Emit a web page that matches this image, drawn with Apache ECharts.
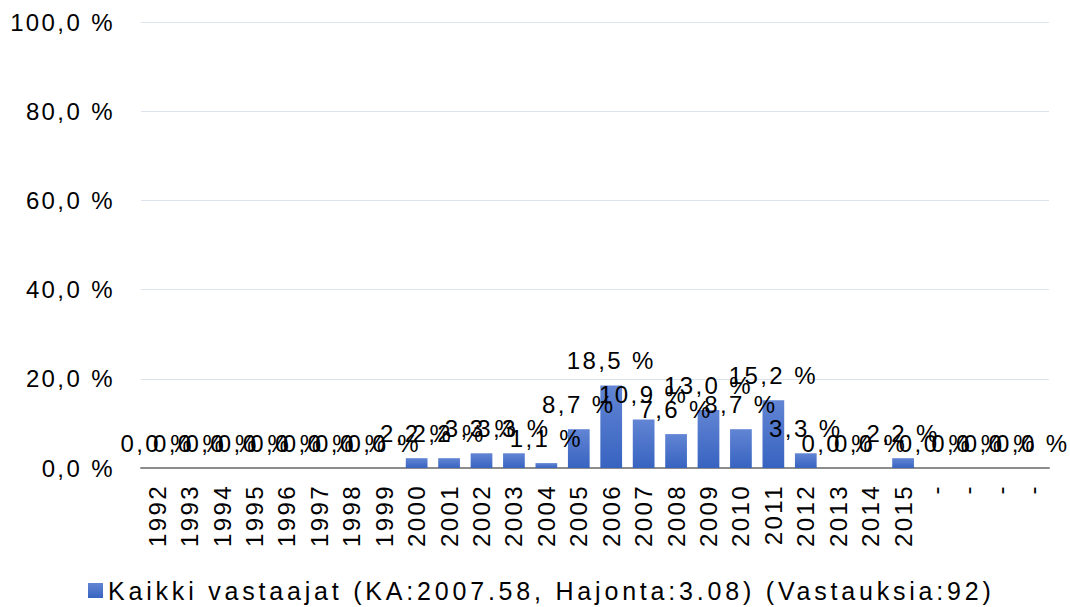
<!DOCTYPE html>
<html>
<head>
<meta charset="utf-8">
<script src="https://cdn.jsdelivr.net/npm/echarts@6/dist/echarts.min.js"></script>
<style>
  html, body { margin: 0; padding: 0; background: #fff; }
  #main { width: 1070px; height: 607px; }
  #main text { letter-spacing: 2.4px; }
  #main text[style*="25px"] { letter-spacing: 3.8px; }
</style>
</head>
<body>
<div id="main"></div>
<script>
  // vuodet + tyhjät kategoriat lopussa
  var years = ['1992', '1993', '1994', '1995', '1996', '1997', '1998', '1999',
    '2000', '2001', '2002', '2003', '2004', '2005', '2006', '2007', '2008',
    '2009', '2010', '2011', '2012', '2013', '2014', '2015', '-', '-', '-', '-']
  var shares = [0, 0, 0, 0, 0, 0, 0, 0,
    2.2, 2.2, 3.3, 3.3, 1.1, 8.7, 18.5, 10.9, 7.6,
    13.0, 8.7, 15.2, 3.3, 0, 0, 2.2, 0, 0, 0, 0]
  var yTicks = [0, 20, 40, 60, 80, 100]
  var seriesName = 'Kaikki vastaajat (KA:2007.58, Hajonta:3.08) (Vastauksia:92)'

  var font = 'Liberation Sans, Arial, sans-serif'
  function pct(v) {
    return Number(v).toFixed(1).replace('.', ',') + ' %'
  }

  var chart = echarts.init(document.getElementById('main'), null, {renderer: 'svg'})
  chart.setOption({
    animation: false,
    grid: {
      left: 141,
      right: 21,
      top: 22,
      bottom: 139
    },
    legend: {
      data: [seriesName],
      left: 88,
      top: 578,
      padding: 0,
      itemWidth: 15,
      itemHeight: 15,
      icon: 'rect',
      textStyle: {
        fontFamily: font,
        fontSize: 25,
        color: '#000'
      }
    },
    xAxis: {
      type: 'category',
      data: years,
      axisTick: {show: false},
      axisLine: {
        lineStyle: {color: '#8c8c8c', width: 2}
      },
      axisLabel: {
        interval: 0,
        rotate: 90,
        margin: 16,
        fontFamily: font,
        fontSize: 24,
        color: '#000'
      }
    },
    yAxis: {
      type: 'value',
      min: yTicks[0],
      max: yTicks[yTicks.length - 1],
      interval: yTicks[1] - yTicks[0],
      axisLine: {show: false},
      axisTick: {show: false},
      splitLine: {
        lineStyle: {color: '#dce3ef', width: 1}
      },
      axisLabel: {
        margin: 26,
        fontFamily: font,
        fontSize: 24,
        color: '#000',
        formatter: pct
      }
    },
    series: [
      {
        name: seriesName,
        type: 'bar',
        data: shares,
        barCategoryGap: '33%',
        itemStyle: {
          color: new echarts.graphic.LinearGradient(0, 0, 0, 1, [
            {offset: 0, color: '#6285d4'},
            {offset: 1, color: '#3763c0'}
          ])
        },
        label: {
          show: true,
          position: 'top',
          distance: 13,
          fontFamily: font,
          fontSize: 24,
          color: '#000',
          formatter: function (p) {
            return pct(p.value)
          }
        }
      }
    ]
  })
</script>
</body>
</html>
